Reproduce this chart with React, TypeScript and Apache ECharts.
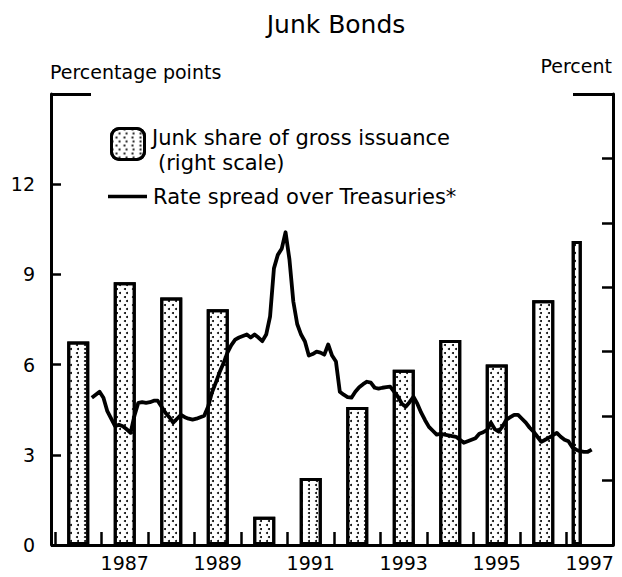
import React, { useEffect, useRef } from "react";
import * as echarts from "echarts";

// ---- Data ----
const years = [1986, 1987, 1988, 1989, 1990, 1991, 1992, 1993, 1994, 1995, 1996, 1997];
// Junk share of gross issuance, percent (right scale)
const junkShare = [15.8, 20.4, 19.2, 18.3, 2.2, 5.2, 10.7, 13.6, 15.9, 14.0, 19.0, 23.6];
const partialYear = 1997; // drawn as a narrow bar (part of the year)

// Rate spread over Treasuries, percentage points, monthly from Oct 1986
const spreadStart = { year: 1986, month: 10 };
const spread1986 = [4.9, 5.0, 5.1];
const spread1987 = [4.9, 4.45, 4.2, 3.95, 4.0, 3.95, 3.85, 3.73, 4.3, 4.73, 4.75, 4.73];
const spread1988 = [4.75, 4.8, 4.8, 4.6, 4.4, 4.25, 4.07, 4.2, 4.33, 4.25, 4.2, 4.17];
const spread1989 = [4.2, 4.25, 4.3, 4.6, 5.07, 5.4, 5.75, 6.05, 6.4, 6.65, 6.83, 6.9];
const spread1990 = [6.95, 7.0, 6.9, 7.0, 6.9, 6.78, 7.0, 7.6, 9.2, 9.65, 9.85, 10.4];
const spread1991 = [9.5, 8.1, 7.35, 7.0, 6.77, 6.3, 6.35, 6.43, 6.4, 6.33, 6.67, 6.3];
const spread1992 = [6.1, 5.1, 5.0, 4.92, 4.9, 5.1, 5.25, 5.35, 5.43, 5.4, 5.23, 5.2];
const spread1993 = [5.23, 5.25, 5.27, 5.1, 4.93, 4.7, 4.6, 4.75, 4.93, 4.7, 4.4, 4.15];
const spread1994 = [3.93, 3.8, 3.67, 3.7, 3.67, 3.65, 3.62, 3.6, 3.5, 3.4, 3.45, 3.5];
const spread1995 = [3.55, 3.7, 3.75, 3.83, 4.07, 3.85, 3.77, 3.95, 4.17, 4.25, 4.33, 4.33];
const spread1996 = [4.2, 4.07, 3.9, 3.77, 3.6, 3.43, 3.5, 3.57, 3.65, 3.73, 3.6, 3.5];
const spread1997 = [3.45, 3.25, 3.17, 3.12, 3.1, 3.1, 3.17];

const yearLabels = [1987, 1989, 1991, 1993, 1995, 1997];

const FONT = "DejaVu Sans";

export default function App() {
  const ref = useRef<HTMLDivElement>(null);

  useEffect(() => {
    document.body.style.margin = "0";
    if (!ref.current) return;
    const chart = echarts.init(ref.current, undefined, { renderer: "svg" });

    const spreadAll = [
      ...spread1986, ...spread1987, ...spread1988, ...spread1989, ...spread1990, ...spread1991,
      ...spread1992, ...spread1993, ...spread1994, ...spread1995, ...spread1996, ...spread1997,
    ];
    const lineData = spreadAll.map((v, i) => {
      const m0 = spreadStart.month - 1 + i;
      const y = spreadStart.year + Math.floor(m0 / 12);
      const m = (m0 % 12) + 1;
      return [y + (m - 0.5) / 12, v];
    });

    const fullBars = years
      .map((y, i) => (y === partialYear ? null : [y + 0.5, junkShare[i]]))
      .filter((d) => d !== null);
    const partialIdx = years.indexOf(partialYear);
    const partialBars = [[partialYear + 0.22, junkShare[partialIdx]]];

    const xMin = years[0];
    const xMax = years[years.length - 1] + 1;

    const decal = {
      symbol: "circle",
      symbolSize: 1,
      color: "#000",
      backgroundColor: "#fff",
      dashArrayX: [[2, 5], [0, 3.5, 2, 1.5]],
      dashArrayY: [2, 2],
    };

    const barStyle = {
      color: "#fff",
      borderColor: "#000",
      borderWidth: 3,
      decal,
    };

    const black = { color: "#000" };

    chart.setOption({
      animation: false,
      backgroundColor: "#fff",
      textStyle: { fontFamily: FONT, color: "#000" },
      grid: { left: 55, right: 9, top: 94, bottom: 32 },
      legend: [
        {
          left: 110,
          top: 127,
          padding: 0,
          itemWidth: 33,
          itemHeight: 31,
          data: ["Junk share of gross issuance"],
          formatter: () => "",
          itemStyle: { color: "#fff", borderColor: "#000", borderWidth: 3, decal },
          selectedMode: false,
        },
        {
          left: 108,
          top: 186,
          padding: 0,
          itemWidth: 39,
          itemHeight: 3.5,
          data: [{ name: "Rate spread over Treasuries*", icon: "rect" }],
          itemStyle: { color: "#000", borderWidth: 0 },
          lineStyle: { width: 0 },
          textStyle: { fontFamily: FONT, fontSize: 21, color: "#000", padding: [0, 0, 0, 1] },
          selectedMode: false,
        },
      ],
      xAxis: [
        {
          type: "value",
          position: "bottom",
          min: xMin,
          max: xMax,
          interval: 1,
          axisLine: { show: true, onZero: false, lineStyle: { ...black, width: 3 } },
          axisTick: { show: true, inside: true, length: 13, lineStyle: { ...black, width: 2.5 } },
          axisLabel: { show: false },
          splitLine: { show: false },
        },
        {
          type: "value",
          min: xMin,
          max: xMax,
          position: "bottom",
          axisLine: { show: false },
          axisTick: { show: false },
          axisLabel: {
            show: true,
            color: "#000",
            fontFamily: FONT,
            fontSize: 19,
            margin: 8,
            customValues: yearLabels.map((y) => y + 0.5),
            formatter: (v: number) => String(Math.floor(v)),
          },
          splitLine: { show: false },
        },
        {
          type: "value",
          min: xMin,
          max: xMax,
          show: false,
        },
      ],
      yAxis: [
        {
          type: "value",
          position: "left",
          offset: 4,
          min: 0,
          max: 15,
          interval: 3,
          axisLine: { show: true, lineStyle: { ...black, width: 3 } },
          axisTick: { show: true, inside: true, length: 10, lineStyle: { ...black, width: 2.5 } },
          axisLabel: {
            show: true,
            color: "#000",
            fontFamily: FONT,
            fontSize: 19,
            margin: 16,
            formatter: (v: number) => (v > 12 ? "" : String(v)),
          },
          splitLine: { show: false },
        },
        {
          type: "value",
          position: "right",
          min: 0,
          max: 35,
          interval: 5,
          axisLine: { show: true, lineStyle: { ...black, width: 3 } },
          axisTick: { show: true, inside: true, length: 11, lineStyle: { ...black, width: 2.5 } },
          axisLabel: { show: false },
          splitLine: { show: false },
        },
        {
          type: "value",
          position: "left",
          offset: 4,
          min: 0,
          max: 15,
          interval: 15,
          axisLine: { show: false },
          axisTick: { show: true, inside: true, length: 40, lineStyle: { ...black, width: 3 } },
          axisLabel: { show: false },
          splitLine: { show: false },
        },
        {
          type: "value",
          position: "right",
          min: 0,
          max: 35,
          interval: 35,
          axisLine: { show: false },
          axisTick: { show: true, inside: true, length: 40, lineStyle: { ...black, width: 3 } },
          axisLabel: { show: false },
          splitLine: { show: false },
        },
      ],
      series: [
        {
          name: "Junk share of gross issuance",
          type: "bar",
          xAxisIndex: 0,
          yAxisIndex: 1,
          barWidth: 22,
          itemStyle: barStyle,
          data: fullBars,
          z: 2,
        },
        {
          name: "Junk share of gross issuance",
          type: "bar",
          xAxisIndex: 2,
          yAxisIndex: 1,
          barWidth: 10,
          itemStyle: barStyle,
          data: partialBars,
          z: 2,
        },
        {
          name: "Rate spread over Treasuries*",
          type: "line",
          xAxisIndex: 0,
          yAxisIndex: 0,
          symbol: "none",
          showSymbol: false,
          lineStyle: { color: "#000", width: 3.8, join: "round" },
          itemStyle: { color: "#000" },
          data: lineData,
          z: 3,
        },
      ],
      graphic: [
        {
          type: "text",
          x: 336,
          y: 24,
          style: {
            text: "Junk Bonds",
            font: `25px "${FONT}"`,
            fill: "#000",
            textAlign: "center",
            textVerticalAlign: "middle",
          },
        },
        {
          type: "text",
          x: 50,
          y: 72,
          style: {
            text: "Percentage points",
            font: `19px "${FONT}"`,
            fill: "#000",
            textAlign: "left",
            textVerticalAlign: "middle",
          },
        },
        {
          type: "text",
          x: 612,
          y: 66,
          style: {
            text: "Percent",
            font: `19px "${FONT}"`,
            fill: "#000",
            textAlign: "right",
            textVerticalAlign: "middle",
          },
        },
        {
          type: "text",
          x: 152,
          y: 138,
          style: {
            text: "Junk share of gross issuance",
            font: `21px "${FONT}"`,
            fill: "#000",
            textAlign: "left",
            textVerticalAlign: "middle",
          },
        },
        {
          type: "text",
          x: 158,
          y: 163,
          style: {
            text: "(right scale)",
            font: `21px "${FONT}"`,
            fill: "#000",
            textAlign: "left",
            textVerticalAlign: "middle",
          },
        },
      ],
    });

    return () => {
      chart.dispose();
    };
  }, []);

  return <div ref={ref} style={{ width: 622, height: 577 }} />;
}
